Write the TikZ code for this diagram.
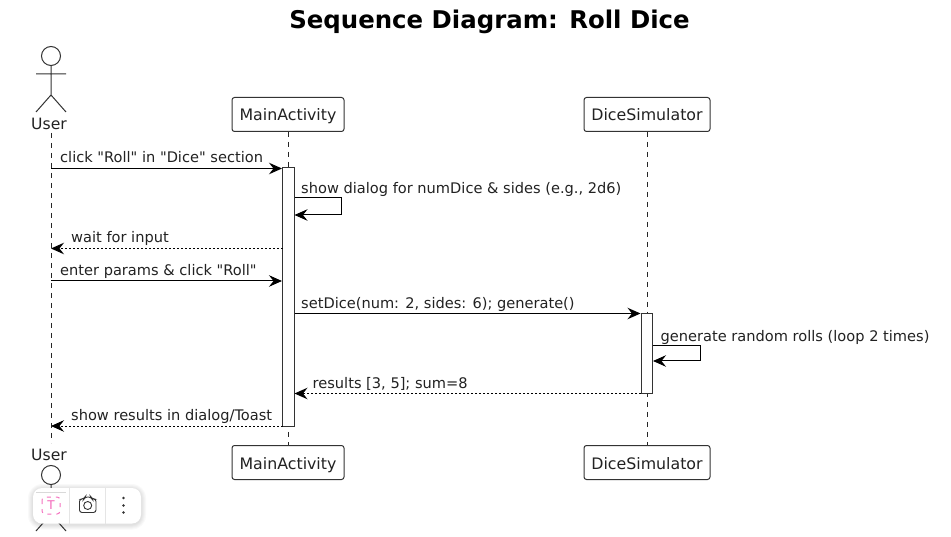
\documentclass[tikz,border=0pt]{standalone}
\usepackage{fontspec}
\setmainfont[Ligatures=TeXOff]{DejaVu Sans}
\usetikzlibrary{arrows.meta}
\definecolor{ink}{HTML}{222222}
\definecolor{stroke}{HTML}{333333}
\tikzset{
  x=1pt,y=-1pt,
  every node/.style={text=ink,font=\fontsize{14.6}{17}\selectfont,inner sep=0pt},
  partbox/.style={draw=stroke,line width=1pt,fill=white,rounded corners=2.5pt,minimum height=34pt,anchor=center,font=\fontsize{15.8}{18}\selectfont,text height=14pt,text depth=1pt},
  actorlabel/.style={font=\fontsize{15.6}{18}\selectfont},
  lifeline/.style={draw=black!85,line width=1pt,dash pattern=on 5pt off 5pt},
  activation/.style={draw=stroke,line width=1pt,fill=white},
  msgtip/.style={-{Stealth[length=13pt,width=11.5pt,inset=4.5pt]}},
  msg/.style={draw=black,line width=1pt,msgtip},
  reply/.style={draw=black,line width=1pt,dash pattern=on 2pt off 2pt,msgtip},
  msglabel/.style={anchor=base west},
  stick/.style={draw=stroke,line width=1pt},
}
\begin{document}
\begin{tikzpicture}
\useasboundingbox (0,0) rectangle (951,537);
\fill[white] (0,0) rectangle (951,537);
\node (title) at (489.5,21.5) {\fontsize{24.4}{28}\selectfont\bfseries\textcolor{black}{Sequence Diagram: Roll Dice}};
% lifelines
\coordinate (uTop) at (51,133); \coordinate (uBot) at (51,443);
\node[partbox,minimum width=112pt] (mainTop) at (288,114.5) {MainActivity};
\node[partbox,minimum width=126pt] (diceTop) at (647,114.5) {DiceSimulator};
\node[partbox,minimum width=112pt] (mainBot) at (288,462.5) {MainActivity};
\node[partbox,minimum width=126pt] (diceBot) at (647,462.5) {DiceSimulator};
\path[lifeline] (uTop) -- (uBot);
\path[lifeline] (mainTop) -- (mainBot);
\path[lifeline] (diceTop) -- (diceBot);
% actors
\draw[stick] (51,56) circle (9.5);
\draw[stick] (51,65.5) -- (51,95) (36,74) -- (66,74) (36,112) -- (51,95) -- (66,112);
\node[actorlabel] (userTop) at (49,124) {User};
\node[actorlabel] (userBot) at (49,455) {User};
\draw[stick] (51,475) circle (9.5);
\draw[stick] (51,484.5) -- (51,514) (36,493) -- (66,493) (36,531) -- (51,514) -- (66,531);
% activations
\node[activation,minimum width=11.5pt,minimum height=258pt] (actMain) at (288.5,297) {};
\node[activation,minimum width=11.5pt,minimum height=80pt] (actDice) at (647,353.5) {};
% messages
\coordinate (m1a) at (51,168.5); \coordinate (m1b) at (282,168.5);
\path[msg] (m1a) -- (m1b);
\node[msglabel] (l1) at (60,162.5) {click "Roll" in "Dice" section};
\coordinate (s1a) at (294.5,198); \coordinate (s1b) at (341.5,198);
\coordinate (s1c) at (341.5,215); \coordinate (s1d) at (294.5,215);
\path[msg] (s1a) -- (s1b) -- (s1c) -- (s1d);
\node[msglabel] (l2) at (301,193.5) {show dialog for numDice \& sides (e.g., 2d6)};
\coordinate (m3a) at (282.5,248.5); \coordinate (m3b) at (51,248.5);
\path[reply] (m3a) -- (m3b);
\node[msglabel] (l3) at (71,242.5) {wait for input};
\coordinate (m4a) at (51,281); \coordinate (m4b) at (282,281);
\path[msg] (m4a) -- (m4b);
\node[msglabel] (l4) at (60,275.5) {enter params \& click "Roll"};
\coordinate (m5a) at (294.5,313.5); \coordinate (m5b) at (640.5,313.5);
\path[msg] (m5a) -- (m5b);
\node[msglabel] (l5) at (301,308.5) {setDice(num: 2, sides: 6); generate()};
\coordinate (s2a) at (653,346); \coordinate (s2b) at (700.5,346);
\coordinate (s2c) at (700.5,361); \coordinate (s2d) at (653,361);
\path[msg] (s2a) -- (s2b) -- (s2c) -- (s2d);
\node[msglabel] (l6) at (660.5,341.5) {generate random rolls (loop 2 times)};
\coordinate (m7a) at (641,393.5); \coordinate (m7b) at (294.5,393.5);
\path[reply] (m7a) -- (m7b);
\node[msglabel] (l7) at (312.5,388.5) {results [3, 5]; sum=8};
\coordinate (m8a) at (282.5,426); \coordinate (m8b) at (51,426);
\path[reply] (m8a) -- (m8b);
\node[msglabel] (l8) at (71,420.5) {show results in dialog/Toast};
% floating toolbar
\foreach \g in {5,4,3,2,1}{
  \fill[black,opacity=.025,rounded corners=9pt+\g pt] (33-\g,488-\g+1) rectangle (141+\g,523.5+\g+1);
}
\fill[white,rounded corners=9pt] (33,488) rectangle (141,523.5);
\draw[black!10,line width=.7pt] (69.5,488) -- (69.5,523.5) (105.5,488) -- (105.5,523.5);
\draw[black!15,line width=.7pt] (36,492) -- (66,492);
\draw[magenta!55,line width=1pt,dash pattern=on 4pt off 5pt,rounded corners=3pt] (42,497) rectangle (60,514);
\node[text=magenta!60] (tIcon) at (51,505.5) {\fontsize{12}{14}\selectfont T};
\draw[black!80,line width=.9pt,rounded corners=2.5pt] (79.5,499) -- (84,499) -- (85,497) -- (91,497) -- (92,499) -- (96,499) -- (96,512.5) -- (79.5,512.5) -- cycle;
\draw[black!80,line width=.9pt] (87.7,505.5) circle (4);
\fill[black!80] (123.5,498) circle (1.3) (123.5,505.5) circle (1.3) (123.5,512.5) circle (1.3);
\end{tikzpicture}
\end{document}
